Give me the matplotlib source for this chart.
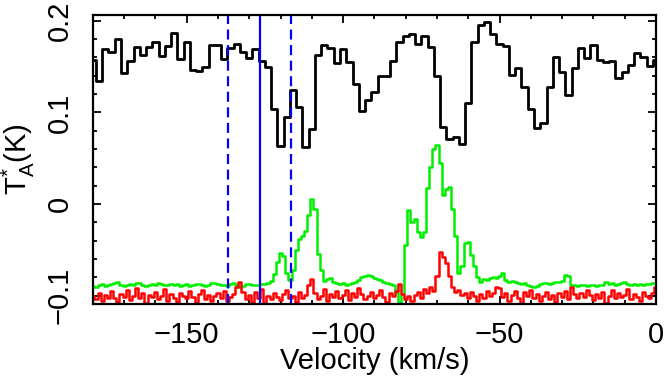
import numpy as np
import matplotlib
matplotlib.use("Agg")
import matplotlib.pyplot as plt

plt.rcParams["font.family"] = ["Liberation Sans", "DejaVu Sans"]
plt.rcParams["mathtext.fontset"] = "custom"
plt.rcParams["mathtext.rm"] = "Liberation Sans"
plt.rcParams["mathtext.it"] = "Liberation Sans"

# black spectrum, 2 km/s channels centred on -180 ... 0
vel_black = np.arange(-180, 1, 2)
t_black = [
    0.157, 0.134, 0.169, 0.166, 0.180, 0.143, 0.156, 0.171, 0.163, 0.171,
    0.177, 0.161, 0.172, 0.187, 0.158, 0.177, 0.146, 0.145, 0.149, 0.174,
    0.173, 0.158, 0.170, 0.175, 0.166, 0.159, 0.169, 0.156, 0.150, 0.104,
    0.063, 0.095, 0.124, 0.106, 0.062, 0.082, 0.163, 0.174, 0.170, 0.154,
    0.169, 0.155, 0.131, 0.102, 0.113, 0.122, 0.140, 0.140, 0.156, 0.177,
    0.183, 0.186, 0.175, 0.183, 0.171, 0.140, 0.084, 0.071, 0.073, 0.065,
    0.110, 0.177, 0.195, 0.199, 0.186, 0.175, 0.172, 0.141, 0.148, 0.128,
    0.104, 0.083, 0.088, 0.128, 0.160, 0.144, 0.119, 0.148, 0.170, 0.159,
    0.174, 0.157, 0.155, 0.156, 0.138, 0.144, 0.152, 0.165, 0.160, 0.151,
    0.157,
]

# green and red spectra, 1 km/s channels centred on -180 ... 0
vel_fine = np.arange(-180, 1, 1)
t_green = [
    -0.089, -0.090, -0.088, -0.087, -0.089, -0.088, -0.087, -0.086, -0.085, -0.088,
    -0.089, -0.088, -0.087, -0.088, -0.086, -0.086, -0.088, -0.089, -0.088, -0.087,
    -0.088, -0.086, -0.087, -0.088, -0.088, -0.087, -0.088, -0.087, -0.089, -0.088,
    -0.087, -0.089, -0.088, -0.087, -0.087, -0.088, -0.089, -0.088, -0.086, -0.086,
    -0.087, -0.088, -0.088, -0.089, -0.087, -0.086, -0.088, -0.090, -0.089, -0.087,
    -0.087, -0.088, -0.088, -0.088, -0.087, -0.087, -0.086, -0.084, -0.076, -0.063,
    -0.053, -0.057, -0.075, -0.083, -0.072, -0.050, -0.038, -0.035, -0.029, -0.012,
    0.006, -0.005, -0.055, -0.072, -0.084, -0.082, -0.081, -0.085, -0.086, -0.087,
    -0.086, -0.088, -0.087, -0.086, -0.085, -0.083, -0.080, -0.078, -0.077, -0.078,
    -0.081, -0.082, -0.083, -0.085, -0.086, -0.087, -0.088, -0.096, -0.107, -0.098,
    -0.045, -0.006, -0.020, -0.016, -0.030, -0.036, -0.030, 0.018, 0.040, 0.060,
    0.064, 0.045, 0.010, 0.016, 0.019, -0.005, -0.035, -0.075, -0.068, -0.042,
    -0.041, -0.056, -0.068, -0.080, -0.085, -0.082, -0.083, -0.081, -0.080, -0.081,
    -0.079, -0.075, -0.083, -0.085, -0.084, -0.085, -0.086, -0.087, -0.086, -0.088,
    -0.089, -0.090, -0.089, -0.087, -0.086, -0.086, -0.087, -0.086, -0.085, -0.085,
    -0.084, -0.077, -0.078, -0.088, -0.088, -0.089, -0.088, -0.088, -0.089, -0.088,
    -0.088, -0.089, -0.088, -0.088, -0.085, -0.087, -0.086, -0.088, -0.087, -0.086,
    -0.085, -0.087, -0.088, -0.087, -0.088, -0.087, -0.088, -0.087, -0.087, -0.086,
    -0.086,
]
t_red = [
    -0.100, -0.104, -0.097, -0.106, -0.099, -0.102, -0.095, -0.103, -0.107, -0.098,
    -0.101, -0.094, -0.105, -0.100, -0.092, -0.103, -0.097, -0.108, -0.099, -0.101,
    -0.096, -0.104, -0.100, -0.093, -0.106, -0.098, -0.102, -0.107, -0.097, -0.100,
    -0.103, -0.095, -0.101, -0.108, -0.098, -0.094, -0.104, -0.099, -0.106, -0.100,
    -0.097, -0.103, -0.095, -0.106, -0.101, -0.098, -0.090, -0.085, -0.096, -0.104,
    -0.099, -0.107, -0.096, -0.102, -0.093, -0.108, -0.100, -0.104, -0.097, -0.101,
    -0.105, -0.098, -0.094, -0.103, -0.100, -0.107, -0.096, -0.102, -0.099, -0.088,
    -0.082, -0.097, -0.104, -0.100, -0.093, -0.106, -0.098, -0.101, -0.095, -0.103,
    -0.099, -0.094, -0.105, -0.097, -0.101, -0.092, -0.098, -0.104, -0.100, -0.096,
    -0.103, -0.099, -0.094, -0.101, -0.107, -0.097, -0.100, -0.095, -0.087, -0.098,
    -0.104, -0.100, -0.106, -0.099, -0.096, -0.102, -0.093, -0.097, -0.091, -0.095,
    -0.078, -0.052, -0.058, -0.064, -0.078, -0.090, -0.096, -0.094, -0.099, -0.097,
    -0.102, -0.096, -0.100, -0.106, -0.098, -0.103, -0.095, -0.100, -0.097, -0.090,
    -0.092, -0.101, -0.097, -0.106, -0.099, -0.095, -0.103, -0.108, -0.096, -0.100,
    -0.094, -0.103, -0.098, -0.106, -0.100, -0.096, -0.104, -0.099, -0.107, -0.097,
    -0.101, -0.095, -0.104, -0.090, -0.098, -0.103, -0.097, -0.101, -0.094, -0.099,
    -0.105, -0.098, -0.102, -0.096, -0.108, -0.100, -0.094, -0.103, -0.097, -0.101,
    -0.099, -0.093, -0.104, -0.098, -0.101, -0.106, -0.096, -0.100, -0.103, -0.097,
    -0.091,
]

v_solid = -126.7
v_dashed = [-136.7, -116.7]

fig = plt.figure(figsize=(6.64, 3.8), dpi=100)
ax = fig.add_axes([0.1398, 0.2, 0.8482, 0.7605])

ax.step(vel_black, t_black, where="mid", color="black", lw=2.0)
ax.step(vel_fine, t_green, where="mid", color="#00ee00", lw=1.8)
ax.step(vel_fine, t_red, where="mid", color="#ff0000", lw=1.8)
ax.axvline(v_solid, color="#0000ff", lw=1.6)
for v in v_dashed:
    ax.axvline(v, color="#0000ff", lw=1.6, ls=(0, (4.5, 2.5)))

ax.set_xlim(-180, 0)
ax.set_ylim(-0.109, 0.2062)
ax.set_xticks([-150, -100, -50, 0])
ax.set_xticks(np.arange(-170, 0, 10), minor=True)
ax.set_yticks([-0.1, 0, 0.1, 0.2])
ax.set_yticklabels(["\u22120.1", "0", "0.1", "0.2"])
ax.set_xticklabels(["\u2212150", "\u2212100", "\u221250", "0"])
ax.set_yticks(np.arange(-0.1, 0.21, 0.02), minor=True)
ax.tick_params(which="both", direction="in", top=True, right=True, width=1.3,
               labelsize=21)
ax.tick_params(which="major", length=6)
ax.tick_params(which="minor", length=3)
ax.tick_params(axis="x", pad=12)
ax.tick_params(axis="y", pad=14, labelrotation=90)
for lbl in ax.get_yticklabels():
    lbl.set_va("center")
for s in ax.spines.values():
    s.set_linewidth(1.6)

ax.set_xlabel("Velocity (km/s)", fontsize=21, labelpad=-1)
ax.set_ylabel(r"$\mathrm{T}_\mathrm{A}^{*}\mathrm{(K)}$", fontsize=21, labelpad=6)

fig.savefig("out.png", dpi=100)
